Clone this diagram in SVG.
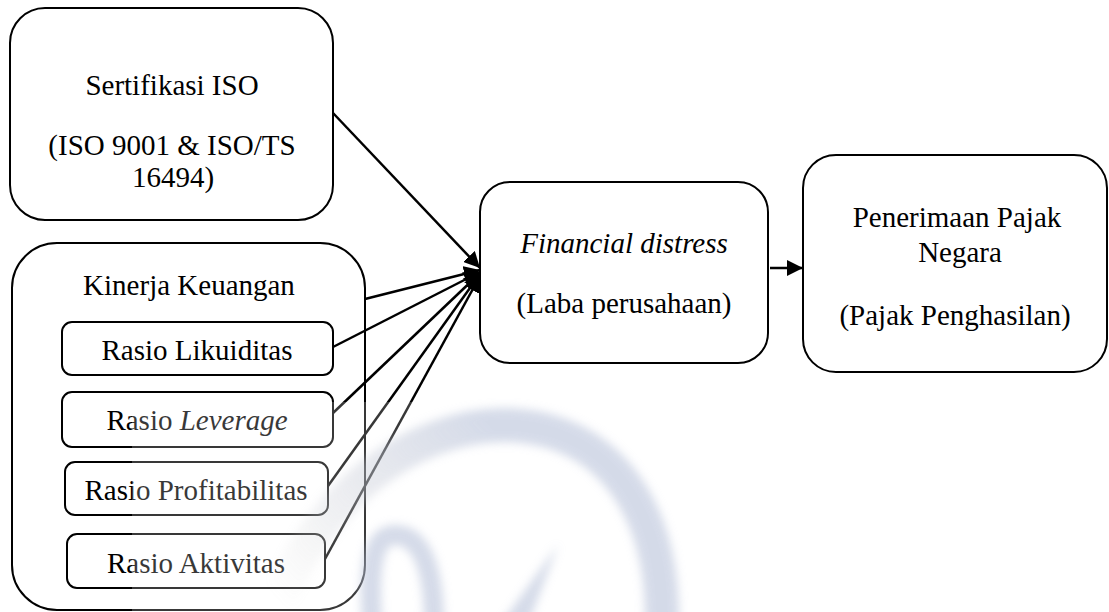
<svg xmlns="http://www.w3.org/2000/svg" width="1109" height="612" viewBox="0 0 1109 612">
<style>
.box{fill:#fff;stroke:#000;stroke-width:2}
.t{font-size:29px;fill:#000;text-anchor:middle}
.i{font-style:italic}
.con{stroke:#000;stroke-width:2.5;fill:none}
.wm{fill:none;stroke-linecap:round}
</style>
<defs>
<marker id="ah" markerUnits="userSpaceOnUse" markerWidth="18" markerHeight="16" refX="16" refY="8" orient="auto">
<path d="M0,0 L16,8 L0,16 Z" fill="#000"/>
</marker>
<filter id="blur" x="-20%" y="-20%" width="140%" height="140%">
<feGaussianBlur stdDeviation="5"/>
</filter>
<linearGradient id="wmg" gradientUnits="userSpaceOnUse" x1="280" y1="600" x2="480" y2="420">
<stop offset="0" stop-color="#c8c8c8" stop-opacity="0"/>
<stop offset="0.5" stop-color="#c4c8d4" stop-opacity="0.6"/>
<stop offset="1" stop-color="#b9c3da" stop-opacity="1"/>
</linearGradient>
</defs>
<rect width="1109" height="612" fill="#fff"/>

<g id="node-iso">
<rect class="box" x="10" y="8" width="323" height="212" rx="35" ry="35"/>
<text class="t" font-family="'Liberation Serif', 'Times New Roman', serif" x="172" y="95">Sertifikasi ISO</text>
<text class="t" font-family="'Liberation Serif', 'Times New Roman', serif" x="172" y="155">(ISO 9001 &amp; ISO/TS</text>
<text class="t" font-family="'Liberation Serif', 'Times New Roman', serif" x="173" y="187">16494)</text>
</g>

<g id="node-kinerja">
<rect class="box" x="12" y="243" width="353" height="367" rx="45" ry="45"/>
<text class="t" font-family="'Liberation Serif', 'Times New Roman', serif" x="189" y="295">Kinerja Keuangan</text>
</g>

<g id="node-likuiditas">
<rect class="box" x="62" y="322" width="271" height="53" rx="10" ry="10"/>
<text class="t" font-family="'Liberation Serif', 'Times New Roman', serif" x="197" y="360">Rasio Likuiditas</text>
</g>

<g id="node-leverage">
<rect class="box" x="62" y="392" width="271" height="55" rx="10" ry="10"/>
<text class="t" font-family="'Liberation Serif', 'Times New Roman', serif" x="197" y="430">Rasio <tspan class="i">Leverage</tspan></text>
</g>

<g id="node-profitabilitas">
<rect class="box" x="65" y="462" width="263" height="53" rx="10" ry="10"/>
<text class="t" font-family="'Liberation Serif', 'Times New Roman', serif" x="196" y="500">Rasio Profitabilitas</text>
</g>

<g id="node-aktivitas">
<rect class="box" x="67" y="534" width="258" height="54" rx="10" ry="10"/>
<text class="t" font-family="'Liberation Serif', 'Times New Roman', serif" x="196" y="573">Rasio Aktivitas</text>
</g>

<g id="node-distress">
<rect class="box" x="480" y="182" width="288" height="181" rx="30" ry="30"/>
<text class="t i" font-family="'Liberation Serif', 'Times New Roman', serif" x="624" y="253">Financial distress</text>
<text class="t" font-family="'Liberation Serif', 'Times New Roman', serif" x="624" y="313">(Laba perusahaan)</text>
</g>

<g id="node-pajak">
<rect class="box" x="803" y="155" width="304" height="217" rx="33" ry="33"/>
<text class="t" font-family="'Liberation Serif', 'Times New Roman', serif" x="957" y="227">Penerimaan Pajak</text>
<text class="t" font-family="'Liberation Serif', 'Times New Roman', serif" x="960" y="262">Negara</text>
<text class="t" font-family="'Liberation Serif', 'Times New Roman', serif" x="955" y="325">(Pajak Penghasilan)</text>
</g>

<g id="connectors">
<line class="con" x1="333" y1="113" x2="480" y2="268" marker-end="url(#ah)"/>
<line class="con" x1="365" y1="299" x2="480" y2="270" marker-end="url(#ah)"/>
<line class="con" x1="333" y1="347" x2="480" y2="272" marker-end="url(#ah)"/>
<line class="con" x1="333" y1="413" x2="480" y2="273" marker-end="url(#ah)"/>
<line class="con" x1="328" y1="486" x2="480" y2="274" marker-end="url(#ah)"/>
<line class="con" x1="325" y1="559" x2="480" y2="276" marker-end="url(#ah)"/>
<line class="con" x1="770" y1="268" x2="803" y2="268" marker-end="url(#ah)"/>
</g>

<g id="watermark">
<rect x="132" y="402" width="800" height="210" fill="#fff" opacity="0.22"/>
<g filter="url(#blur)" opacity="0.6">
<path class="wm" stroke="url(#wmg)" stroke-width="34" d="M270 625 C310 500 410 425 505 425 C610 427 664 510 662 625"/>
<path class="wm" stroke="#b9c3da" stroke-width="20" d="M372 620 C368 560 375 535 395 535 C420 535 434 565 434 625"/>
<path d="M558 545 L500 625 L528 625 Z" fill="#b9c3da"/>
</g>
</g>
</svg>
